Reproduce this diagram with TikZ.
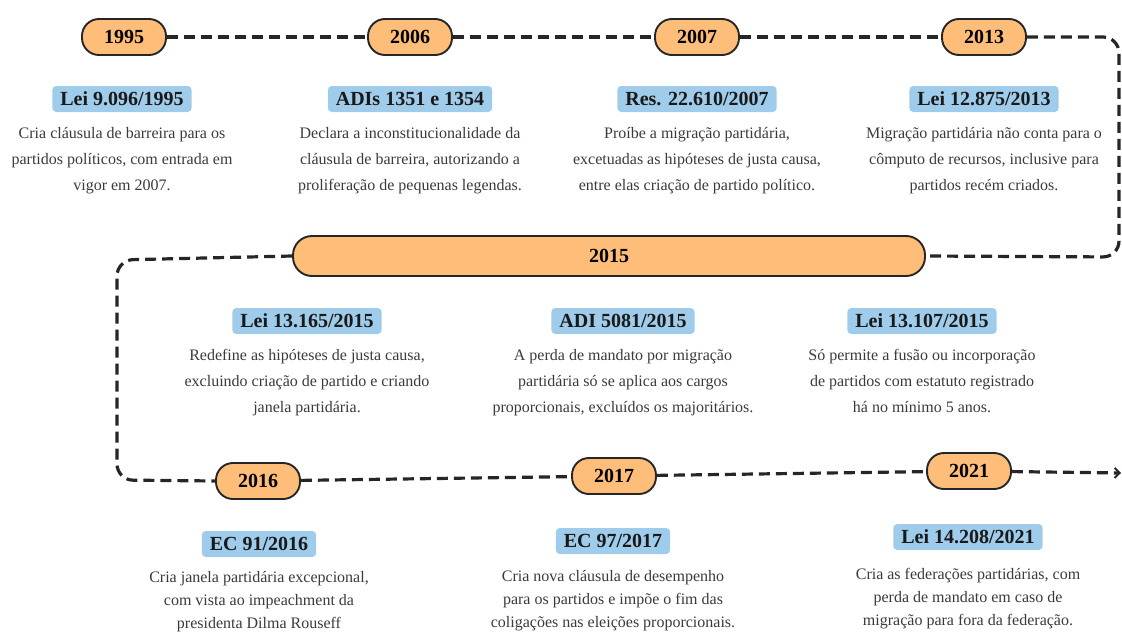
\documentclass[tikz,border=0pt]{standalone}
\usepackage{fontspec}
\setmainfont{Liberation Serif}
\usetikzlibrary{positioning,arrows.meta}
\definecolor{yearfill}{HTML}{FFBD7A}
\definecolor{leifill}{HTML}{9FCCEA}
\definecolor{txtgray}{HTML}{3A3A3A}

\begin{document}
\begin{tikzpicture}
    [x=1pt,y=-1pt,
     yr/.style={draw=black!85,fill=yearfill,line width=1.9pt,rounded corners=17pt,
       minimum width=84pt,minimum height=36pt,inner sep=0pt,
       font=\fontsize{20}{24}\selectfont\bfseries},
     lei/.style={fill=leifill,rounded corners=4pt,minimum height=26pt,
       inner xsep=8pt,inner ysep=0pt,text=black!90,
       font=\fontsize{20}{24}\selectfont\bfseries},
     txt/.style={align=center,inner sep=0pt,text=txtgray,
       font=\fontsize{16}{26}\selectfont},
     tl/.style={draw=black!85,line width=3.2pt,dash pattern=on 11pt off 6pt}]
    \useasboundingbox (0,0) rectangle (1122,632);

    % anos
    \node[yr] (y1995) at (124,37) {1995};
    \node[yr] (y2006) at (410,37) {2006};
    \node[yr] (y2007) at (697,37) {2007};
    \node[yr] (y2013) at (984,37) {2013};
    \node[yr,minimum width=632pt,minimum height=40pt,rounded corners=19pt] (y2015) at (609,256) {2015};
    \node[yr] (y2016) at (258,481) {2016};
    \node[yr] (y2017) at (614,476) {2017};
    \node[yr] (y2021) at (969,471) {2021};

    % leis
    \node[lei] (l1995) at (122,99) {Lei 9.096/1995};
    \node[lei] (l2006) at (410,99) {ADIs 1351 e 1354};
    \node[lei] (l2007) at (697,99) {Res. 22.610/2007};
    \node[lei] (l2013) at (984,99) {Lei 12.875/2013};
    \node[lei] (l2015a) at (307,321) {Lei 13.165/2015};
    \node[lei] (l2015b) at (623,321) {ADI 5081/2015};
    \node[lei] (l2015c) at (922,321) {Lei 13.107/2015};
    \node[lei] (l2016) at (259,544) {EC 91/2016};
    \node[lei] (l2017) at (613,541) {EC 97/2017};
    \node[lei] (l2021) at (968,537) {Lei 14.208/2021};

    % textos
    \node[txt,below=15pt of l1995] (t1995) {Cria cláusula de barreira para os\\partidos políticos, com entrada em\\vigor em 2007.};
    \node[txt,below=15pt of l2006] (t2006) {Declara a inconstitucionalidade da\\cláusula de barreira, autorizando a\\proliferação de pequenas legendas.};
    \node[txt,below=15pt of l2007] (t2007) {Proíbe a migração partidária,\\excetuadas as hipóteses de justa causa,\\entre elas criação de partido político.};
    \node[txt,below=15pt of l2013] (t2013) {Migração partidária não conta para o\\cômputo de recursos, inclusive para\\partidos recém criados.};
    \node[txt,below=15pt of l2015a] (t2015a) {Redefine as hipóteses de justa causa,\\excluindo criação de partido e criando\\janela partidária.};
    \node[txt,below=15pt of l2015b] (t2015b) {A perda de mandato por migração\\partidária só se aplica aos cargos\\proporcionais, excluídos os majoritários.};
    \node[txt,below=15pt of l2015c] (t2015c) {Só permite a fusão ou incorporação\\de partidos com estatuto registrado\\há no mínimo 5 anos.};
    \node[txt,below=14pt of l2016,font=\fontsize{16}{23}\selectfont] (t2016) {Cria janela partidária excepcional,\\com vista ao impeachment da\\presidenta Dilma Rouseff};
    \node[txt,below=16pt of l2017,font=\fontsize{16}{23}\selectfont] (t2017) {Cria nova cláusula de desempenho\\para os partidos e impõe o fim das\\coligações nas eleições proporcionais.};
    \node[txt,below=18pt of l2021,font=\fontsize{16}{23}\selectfont] (t2021) {Cria as federações partidárias, com\\perda de mandato em caso de\\migração para fora da federação.};

    % linha do tempo
    \coordinate (c1) at (1119,37);
    \coordinate (c2) at (1119,257);
    \coordinate (c3) at (117,260);
    \coordinate (c4) at (117,480);
    \coordinate (fim) at (1121,473);
    \draw[tl] (y1995) -- (y2006);
    \draw[tl] (y2006) -- (y2007);
    \draw[tl] (y2007) -- (y2013);
    \draw[tl,rounded corners=16pt] (y2013.east) -- (c1) -- (c2) -- (y2015.east);
    \draw[tl,rounded corners=16pt] (y2015.west) -- (c3) -- (c4) -- (y2016.west);
    \draw[tl] (y2016) -- (y2017);
    \draw[tl] (y2017) -- (y2021);
    \draw[tl,-{Straight Barb[length=5pt,width=10pt,line width=2pt]}] (y2021) -- (fim);
\end{tikzpicture}
\end{document}
